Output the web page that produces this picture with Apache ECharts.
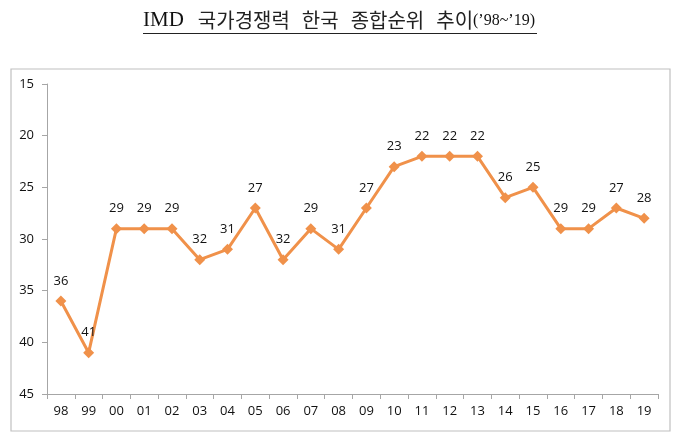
<!DOCTYPE html>
<html>
<head>
<meta charset="utf-8">
<script src="https://cdn.jsdelivr.net/npm/echarts@6/dist/echarts.min.js"></script>
<style>html,body{margin:0;padding:0;background:#fff}#c{width:680px;height:435px}</style>
</head>
<body>
<div id="c"></div>
<script>
var categories = ['98','99','00','01','02','03','04','05','06','07','08','09','10','11','12','13','14','15','16','17','18','19'];
var ranks = [36,41,29,29,29,32,31,27,32,29,31,27,23,22,22,22,26,25,29,29,27,28];
var yTicks = [15,20,25,30,35,40,45];

var chart = echarts.init(document.getElementById('c'), null, {renderer:'canvas'});
chart.setOption({
  backgroundColor:'#fff',
  animation:false,
  graphic:[
    {type:'rect', shape:{x:11,y:69,width:659,height:362}, style:{fill:'none', stroke:'#c0c0c0', lineWidth:1.2}, silent:true},
    {type:'text', left:143, top:10, style:{
      rich:{
        a:{fontFamily:'Liberation Serif', fontSize:21, fill:'#111'},
        k:{fontFamily:'Noto Sans CJK KR', fontSize:20, fill:'#222'},
        p:{fontFamily:'Liberation Serif', fontSize:16, fill:'#111'},
        g:{width:14, fontSize:20},
        h:{width:12, fontSize:20}
      },
      text:'{a|IMD}{g| }{k|국가경쟁력}{h| }{k|한국}{h| }{k|종합순위}{h| }{k|추이}{p|(\u201998~\u201919)}'
    }},
    {type:'line', shape:{x1:143,y1:33.5,x2:537,y2:33.5}, style:{stroke:'#222', lineWidth:1}, silent:true}
  ],
  grid:{left:47, right:22, top:84, bottom:41},
  xAxis:{
    type:'category', data:categories, boundaryGap:true,
    axisLine:{lineStyle:{color:'#a6a6a6'}},
    axisTick:{show:true, alignWithLabel:false, lineStyle:{color:'#a6a6a6'}},
    axisLabel:{color:'#111', fontFamily:'Open Sans', fontSize:13, margin:11}
  },
  yAxis:{
    type:'value', inverse:true, min:yTicks[0], max:yTicks[yTicks.length-1], interval:5,
    splitLine:{show:false},
    axisLine:{show:true, lineStyle:{color:'#a6a6a6'}},
    axisTick:{show:true, lineStyle:{color:'#a6a6a6'}},
    axisLabel:{color:'#111', fontFamily:'Open Sans', fontSize:13, margin:13}
  },
  series:[{
    type:'line', data:ranks,
    symbol:'diamond', symbolSize:11,
    lineStyle:{color:'#F0914A', width:3},
    itemStyle:{color:'#F0914A'},
    label:{show:true, position:'top', distance:8, color:'#111', fontFamily:'Open Sans', fontSize:13}
  }]
});
</script>
</body>
</html>
